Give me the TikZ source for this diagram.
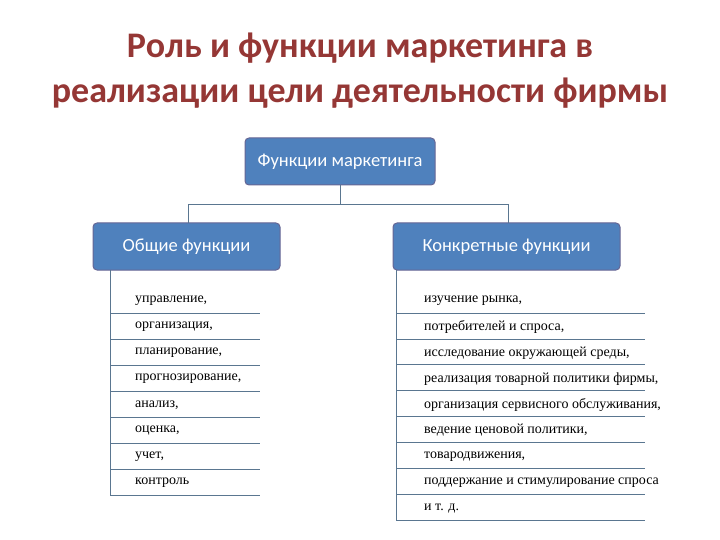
\documentclass[tikz,border=0pt]{standalone}
\usepackage{fontspec}
\setmainfont{Liberation Serif}
\newfontfamily\titlefont{Carlito}
\begin{document}
\begin{tikzpicture}[x=1pt,y=-1pt,
  box/.style={draw=blue!30!black!60!white,line width=1pt,fill=boxblue,rounded corners=4pt,text=white,font=\titlefont\fontsize{18.5}{18.5}\selectfont,inner sep=0},
  conn/.style={draw=linegray,line width=0.8pt},
  item/.style={anchor=west,font=\fontsize{14}{14}\selectfont,inner sep=0}]
\definecolor{boxblue}{HTML}{4F81BD}
\definecolor{linegray}{HTML}{5A7690}
\definecolor{titlered}{HTML}{953735}
\useasboundingbox (0,0) rectangle (720,540);
\node[font=\titlefont\bfseries\fontsize{36}{36}\selectfont,text=titlered] (t1) at (360,48) {Роль и функции маркетинга в};
\node[font=\titlefont\bfseries\fontsize{36}{36}\selectfont,text=titlered] (t2) at (360,93) {реализации цели деятельности фирмы};
\node[box,minimum width=190,minimum height=47] (top) at (340,161.5) {Функции маркетинга};
\node[box,minimum width=187,minimum height=47] (gen) at (186.5,246.5) {Общие функции};
\node[box,minimum width=227,minimum height=47] (spec) at (506.5,246.5) {Конкретные функции};
\coordinate (j) at (340,204);
\draw[conn] (top.south) -- (j);
\draw[conn] (188,223) -- (188,204) -- (508,204) -- (508,223);
% left list
\coordinate (la) at (110,270);
\coordinate (lb) at (110,495);
\draw[conn] (la) -- (lb);
\foreach \t [count=\i] in {{управление,},{организация,},{планирование,},{прогнозирование,},{анализ,},{оценка,},{учет,},{контроль}}{
  \node[item] (l\i) at (135,{301+(\i-1)*26}) {\t};
  \draw[conn] (110,{313+(\i-1)*26}) -- (260,{313+(\i-1)*26});
}
% right list
\coordinate (ra) at (396,270);
\coordinate (rb) at (396,520);
\draw[conn] (ra) -- (rb);
\foreach \t [count=\i] in {{изучение рынка,},{потребителей и спроса,},{исследование окружающей среды,},{реализация товарной политики фирмы,},{организация сервисного обслуживания,},{ведение ценовой политики,},{товародвижения,},{поддержание и стимулирование спроса},{и т. д.}}{
  \node[item] (r\i) at (424,{301+(\i-1)*25.9}) {\t};
  \draw[conn] (396,{313+(\i-1)*25.9}) -- (645,{313+(\i-1)*25.9});
}
\end{tikzpicture}
\end{document}
